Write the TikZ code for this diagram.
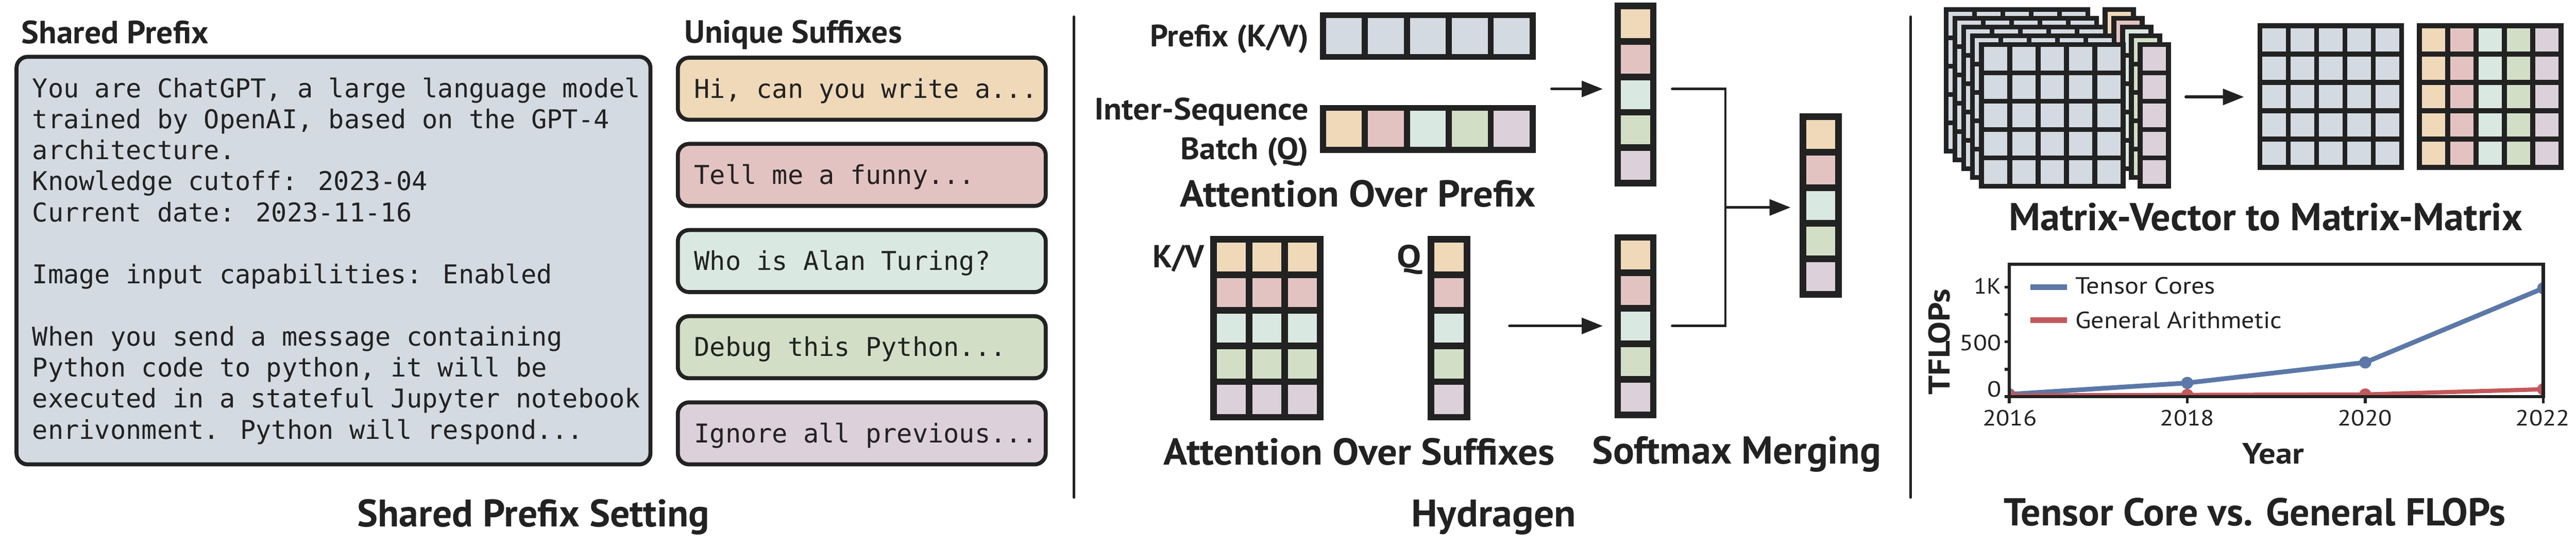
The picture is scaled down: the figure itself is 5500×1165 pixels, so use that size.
\documentclass[tikz,border=0pt]{standalone}
\usepackage{fontspec}
\usepackage{graphicx}
\usetikzlibrary{arrows.meta}
\newfontfamily\labfont{PT Sans}
\newfontfamily\monofont{DejaVu Sans Mono}
\definecolor{ink}{HTML}{222222}
\definecolor{cg}{HTML}{D4DAE1}
\definecolor{c1}{HTML}{EFD9B9}
\definecolor{c2}{HTML}{E3C3C1}
\definecolor{c3}{HTML}{D9E8E1}
\definecolor{c4}{HTML}{D2DFC6}
\definecolor{c5}{HTML}{DCD0DA}
\definecolor{tcblue}{HTML}{5B78A8}
\definecolor{gared}{HTML}{C4585B}
\newcommand\fitbold[3]{\resizebox{#1pt}{\height}{\fontsize{#2pt}{#2pt}\selectfont\bfseries #3}}
\newcommand\fitreg[3]{\resizebox{#1pt}{\height}{\fontsize{#2pt}{#2pt}\selectfont #3}}
\newcommand\mygrid[8]{%
  \foreach \i in {1,...,#3}{\foreach \j in {1,...,#4}{%
    \draw[gridline, line width=#7pt, fill=#8]
      ({#1+#7/2+(\i-1)*#5},{#2+#7/2+(\j-1)*#6}) rectangle ++(#5,#6);}}}
\tikzset{
  lab/.style={inner sep=0pt, outer sep=0pt, text=ink, font=\labfont},
  gridline/.style={draw=ink, line join=miter},
  pbox/.style={draw=ink, line width=8.5pt, rounded corners=24pt},
  conn/.style={draw=ink, line width=6pt, line cap=round},
  bracket/.style={draw=ink, line width=5pt, line cap=round, line join=miter},
  arr/.style={conn, -{Triangle[length=45pt,width=34pt]}},
  divider/.style={draw=ink, line width=6pt, line cap=round},
  mono/.style={inner sep=0pt, anchor=base west, text=ink, font=\monofont\fontsize{55.3pt}{66pt}\selectfont},
  tick/.style={draw=ink, line width=6pt},
}
\begin{document}
\begin{tikzpicture}[x=1pt, y=-1pt]
\useasboundingbox (0,0) rectangle (5500,1165);
\fill[white] (0,0) rectangle (5500,1165);

% ---------------- Panel 1 ----------------
\node[lab, anchor=base] (sptitle) at (245.5,93) {\fitbold{399}{68.6}{Shared Prefix}};
\node[lab, anchor=base] (ustitle) at (1693.5,92) {\fitbold{465}{68.6}{Unique Suffixes}};

\draw[pbox, fill=cg] (35.25,121.25) rectangle (1388.75,991.75);
\node[mono] (p1) at (69,208.0) {You are ChatGPT, a large language model};
\node[mono] (p2) at (69,274.3) {trained by OpenAI, based on the GPT-4};
\node[mono] (p3) at (69,340.6) {architecture.};
\node[mono] (p4) at (69,406.9) {Knowledge cutoff: 2023-04};
\node[mono] (p5) at (69,473.2) {Current date: 2023-11-16};
\node[mono] (p7) at (69,605.8) {Image input capabilities: Enabled};
\node[mono] (p9) at (69,738.4) {When you send a message containing};
\node[mono] (p10) at (69,804.7) {Python code to python, it will be};
\node[mono] (p11) at (69,871.0) {executed in a stateful Jupyter notebook};
\node[mono] (p12) at (69,937.3) {enrivonment. Python will respond...};

\foreach \t/\c [count=\n from 0] in {119/c1,303/c2,487/c3,671/c4,855/c5}{
  \draw[pbox, fill=\c] (1447.25,\t+4.25) rectangle (2232.75,\t+136.75);
}
\node[mono] (s1) at (1482,209) {Hi, can you write a...};
\node[mono] (s2) at (1482,393) {Tell me a funny...};
\node[mono] (s3) at (1482,577) {Who is Alan Turing?};
\node[mono] (s4) at (1482,761) {Debug this Python...};
\node[mono] (s5) at (1482,945) {Ignore all previous...};

\node[lab, anchor=base] (cap1) at (1139,1125) {\fitbold{752}{82}{Shared Prefix Setting}};

\draw[divider] (2293,36) -- (2293,1062);

% ---------------- Panel 2 ----------------
\node[lab, anchor=base east] (lprefix) at (2794,99.5) {\fitbold{338}{66}{Prefix (K/V)}};
\node[lab, anchor=base east] (linter) at (2794,255.6) {\fitbold{457}{66}{Inter-Sequence}};
\node[lab, anchor=base east] (lbatch) at (2794,340.6) {\fitbold{273}{66}{Batch (Q)}};
\mygrid{2818}{26}{5}{1}{89.6}{89}{13}{cg}
\mygrid{2818}{224}{5}{1}{89.6}{90}{13}{c\i}
\node[lab, anchor=base] (aop) at (2899.5,442) {\fitbold{759}{80}{Attention Over Prefix}};

\node[lab, anchor=base east] (lkv) at (2571,571) {\fitbold{110}{68}{K/V}};
\node[lab, anchor=base] (lq) at (3009,571) {\fitbold{52}{68}{Q}};
\mygrid{2584}{504}{3}{5}{76}{76}{14}{c\j}
\mygrid{3048}{504}{1}{5}{77}{76}{14}{c\j}
\node[lab, anchor=base] (aos) at (2902,993) {\fitbold{835}{80}{Attention Over Suffixes}};

\mygrid{3447}{6}{1}{5}{76}{75.6}{14}{c\j}
\mygrid{3447}{500}{1}{5}{76}{75.8}{14}{c\j}
\mygrid{3842}{242}{1}{5}{76}{76}{14}{c\j}

\coordinate (a1s) at (3313,190);
\coordinate (a1e) at (3422,190);
\coordinate (a2s) at (3223,696);
\coordinate (a2e) at (3422,696);
\coordinate (b1) at (3570,190);
\coordinate (b2) at (3684,190);
\coordinate (b3) at (3684,696);
\coordinate (b4) at (3570,696);
\coordinate (m1) at (3684,443);
\coordinate (m2) at (3823,443);
\draw[arr] (a1s) -- (a1e);
\draw[arr] (a2s) -- (a2e);
\draw[bracket] (b1) -- (b2) -- (b3) -- (b4);
\draw[arr, line cap=butt] (m1) -- (m2);

\node[lab, anchor=base] (smm) at (3708,990) {\fitbold{616}{83}{Softmax Merging}};
\node[lab, anchor=base] (cap2) at (3189,1125) {\fitbold{352}{82}{Hydragen}};

\draw[divider] (4079,36) -- (4079,1062);

% ---------------- Panel 3 ----------------
\foreach \k/\cc in {0/c1,1/c2,2/c3,3/c4,4/c5}{
  \pgfmathsetmacro\sx{4150+18.75*\k}
  \pgfmathsetmacro\sy{15+18.75*\k}
  \pgfmathsetmacro\vx{4489+18.75*\k}
  \mygrid{\sx}{\sy}{5}{5}{60.5}{60.5}{10.5}{cg}
  \mygrid{\vx}{\sy}{1}{5}{60.5}{60.5}{10.5}{\cc}
}
\coordinate (r1) at (4667,207);
\coordinate (r2) at (4791,207);
\draw[arr] (r1) -- (r2);
\mygrid{4820}{50}{5}{5}{60.5}{60.5}{10.5}{cg}
\mygrid{5160}{50}{5}{5}{60.5}{60.5}{10.5}{c\i}
\node[lab, anchor=base] (mvmm) at (4837.5,492) {\fitbold{1097}{83}{Matrix-Vector to Matrix-Matrix}};

% chart
\begin{scope}
  \clip (4290,564) rectangle (5430,847);
  \draw[tcblue, line width=10pt, line join=round] (4290,842) -- (4670,817.75) -- (5050,774) -- (5430,615.6);
  \foreach \p in {(4290,842),(4670,817.75),(5050,774),(5430,615.6)} \fill[tcblue] \p circle (13);
  \draw[gared, line width=9pt, line join=round] (4290,844.5) -- (4670,843.3) -- (5050,842.4) -- (5430,831.3);
  \foreach \p in {(4290,844.5),(4670,843.3),(5050,842.4),(5430,831.3)} \fill[gared] \p circle (13);
\end{scope}
\draw[draw=ink, line width=7pt, line join=miter] (4290,564) rectangle (5430,847);
\foreach \v in {0,250,500,750,1000}{
  \draw[tick] (4280,{847-0.234*\v}) -- (4290,{847-0.234*\v});
}
\foreach \xx in {4290,4670,5050,5430}{
  \draw[tick] (\xx,847) -- (\xx,861);
}
\node[lab, anchor=base east] (y0) at (4273,848) {\fitreg{30}{47}{0}};
\node[lab, anchor=base east] (y500) at (4273,748) {\fitreg{89}{47}{500}};
\node[lab, anchor=base east] (y1k) at (4273,628) {\fitreg{58}{47}{1K}};
\node[lab, anchor=base] (x2016) at (4291,909) {\fitreg{116}{47}{2016}};
\node[lab, anchor=base] (x2018) at (4670,909) {\fitreg{116}{47}{2018}};
\node[lab, anchor=base] (x2020) at (5049,909) {\fitreg{116}{47}{2020}};
\node[lab, anchor=base] (x2022) at (5429,909) {\fitreg{116}{47}{2022}};
\node[lab, anchor=base] (xlab) at (4853.5,991) {\fitbold{131}{63}{Year}};
\node[lab, anchor=base, rotate=90] (ylab) at (4163,730) {\fitbold{226}{64}{TFLOPs}};

\draw[tcblue, line width=12pt] (4335,613) -- (4413,613);
\draw[gared, line width=12pt] (4335,683.5) -- (4413,683.5);
\node[lab, anchor=base west] (leg1) at (4431,628) {\fitreg{299}{50}{Tensor Cores}};
\node[lab, anchor=base west] (leg2) at (4431,701) {\fitreg{441}{50}{General Arithmetic}};

\node[lab, anchor=base] (cap3) at (4814,1122) {\fitbold{1072}{83}{Tensor Core vs. General FLOPs}};
\end{tikzpicture}
\end{document}
